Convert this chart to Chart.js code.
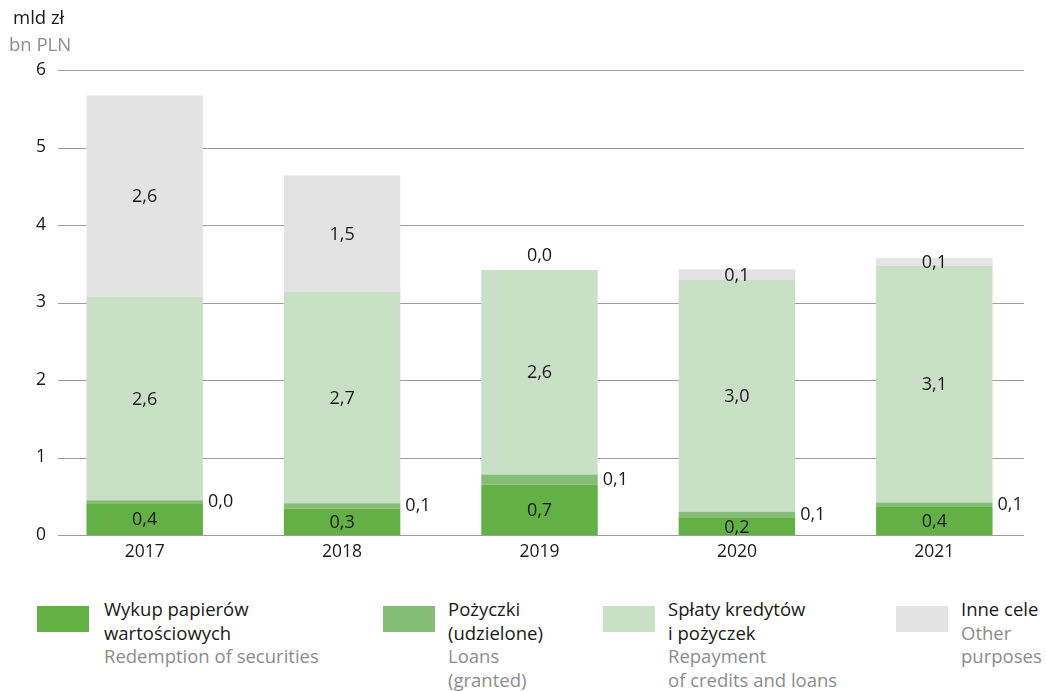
<!DOCTYPE html>
<html>
<head>
<meta charset="utf-8">
<script src="https://cdn.jsdelivr.net/npm/chart.js@4.4.1/dist/chart.umd.min.js"></script>
<style>
  body { margin: 0; background: #fff; font-family: "Open Sans", sans-serif; }
  #wrap { position: relative; width: 1046px; height: 691px; }
  #chartBox { position: absolute; left: 0; top: 0; width: 1046px; height: 580px; }
  .unit { position: absolute; font-size: 18.5px; line-height: 26px; }
  .pl { color: #1a1a1a; }
  .en { color: #8c8c8c; }
  .leg { position: absolute; top: 597px; font-size: 18.5px; line-height: 23.5px; }
  .leg .box { position: absolute; left: 0; top: 9px; width: 52px; height: 26px; }
  .leg .txt { position: absolute; top: 0; white-space: nowrap; }
</style>
</head>
<body>
<div id="wrap">
  <div id="chartBox"><canvas id="chart"></canvas></div>
  <div class="unit pl" style="left:13px;top:4px;">mld zł</div>
  <div class="unit en" style="left:9px;top:31px;">bn PLN</div>
  <div id="legend"></div>
</div>
<script>
const years = ["2017", "2018", "2019", "2020", "2021"];
const redemption = [0.41, 0.34, 0.65, 0.22, 0.36];
const loans = [0.04, 0.07, 0.13, 0.08, 0.06];
const repayment = [2.62, 2.73, 2.64, 2.99, 3.051];
const other = [2.6, 1.5, 0.0, 0.14, 0.1];
const yTicks = [0, 1, 2, 3, 4, 5, 6];

const colors = ["#62b046", "#86bd76", "#c9e0c7", "#e3e3e3"];
const legendPl = ["Wykup papierów<br>wartościowych", "Pożyczki<br>(udzielone)", "Spłaty kredytów<br>i pożyczek", "Inne cele"];
const legendEn = ["Redemption of securities", "Loans<br>(granted)", "Repayment<br>of credits and loans", "Other<br>purposes"];
const legendX = [37, 383, 603, 896];

const fmt = v => v.toFixed(1).replace(".", ",");

// legenda pod wykresem
document.getElementById("legend").innerHTML = legendPl.map((pl, i) => `
  <div class="leg" style="left:${legendX[i]}px">
    <div class="box" style="background:${colors[i]}"></div>
    <div class="txt" style="left:${i === 0 ? 67 : 65}px"><span class="pl">${pl}</span><br><span class="en">${legendEn[i]}</span></div>
  </div>`).join("");

const gridPlugin = {
  id: "grid",
  beforeDatasetsDraw(chart) {
    const { ctx, chartArea, scales } = chart;
    ctx.save();
    ctx.strokeStyle = "#9d9d9d";
    ctx.lineWidth = 1;
    yTicks.forEach(t => {
      const y = Math.round(scales.y.getPixelForValue(t)) + 0.5;
      ctx.beginPath();
      ctx.moveTo(chartArea.left + 12, y);
      ctx.lineTo(chartArea.right - 9, y);
      ctx.stroke();
    });
    ctx.restore();
  }
};

const labelPlugin = {
  id: "labels",
  afterDatasetsDraw(chart) {
    const { ctx } = chart;
    ctx.save();
    ctx.font = "18px 'Open Sans'";
    ctx.fillStyle = "#1a1a1a";
    ctx.textBaseline = "middle";
    chart.data.datasets.forEach((ds, di) => {
      const meta = chart.getDatasetMeta(di);
      meta.data.forEach((bar, i) => {
        const v = ds.data[i];
        const mid = (bar.y + bar.base) / 2;
        if (di === 1) {
          ctx.textAlign = "left";
          ctx.fillText(fmt(v), bar.x + bar.width / 2 + 5, mid);
        } else if (di === 3 && v < 0.05) {
          ctx.textAlign = "center";
          ctx.fillText(fmt(v), bar.x, bar.y - 14);
        } else {
          ctx.textAlign = "center";
          ctx.fillText(fmt(v), bar.x, mid + 1);
        }
      });
    });
    ctx.restore();
  }
};

new Chart(document.getElementById("chart"), {
  type: "bar",
  data: {
    labels: years,
    datasets: [
      { label: "Wykup papierów wartościowych", data: redemption, backgroundColor: colors[0] },
      { label: "Pożyczki (udzielone)", data: loans, backgroundColor: colors[1] },
      { label: "Spłaty kredytów i pożyczek", data: repayment, backgroundColor: colors[2] },
      { label: "Inne cele", data: other, backgroundColor: colors[3] }
    ]
  },
  options: {
    responsive: true,
    maintainAspectRatio: false,
    animation: false,
    layout: { padding: { top: 70, right: 13, left: 0, bottom: 0 } },
    datasets: { bar: { categoryPercentage: 1, barPercentage: 0.59 } },
    plugins: { legend: { display: false }, tooltip: { enabled: false } },
    scales: {
      x: {
        stacked: true,
        grid: { display: false, drawTicks: false },
        border: { display: false },
        ticks: { color: "#1a1a1a", font: { family: "Open Sans", size: 17.5 }, padding: 7 },
        afterFit: s => { s.height = 45; }
      },
      y: {
        stacked: true,
        min: 0,
        max: 6,
        grid: { display: false, drawTicks: false },
        border: { display: false },
        ticks: { stepSize: 1, color: "#1a1a1a", font: { family: "Open Sans", size: 17.5 }, padding: 0 },
        afterFit: s => { s.width = 46; }
      }
    }
  },
  plugins: [gridPlugin, labelPlugin]
});
</script>
</body>
</html>
